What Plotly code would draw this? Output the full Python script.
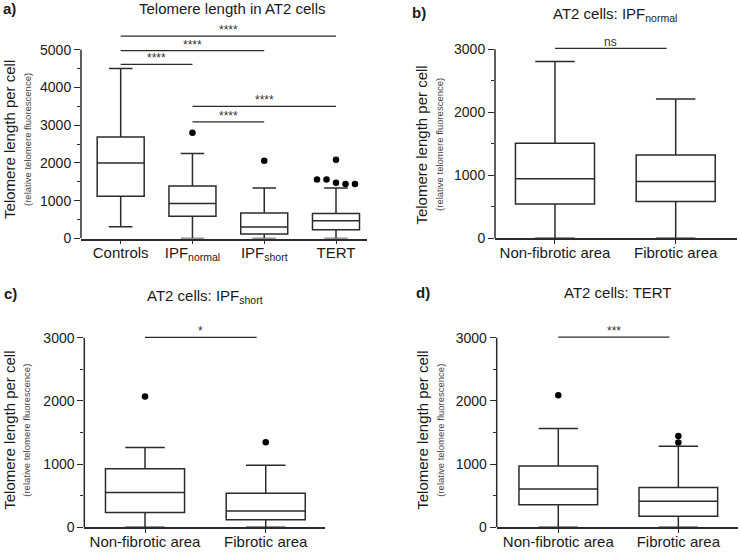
import plotly.graph_objects as go

# ---------------- data ----------------
a_categories = ["Controls", "IPF<sub>normal</sub>", "IPF<sub>short</sub>", "TERT"]
a_q1 = [1122, 591, 122, 235]
a_median = [2000, 930, 304, 470]
a_q3 = [2687, 1391, 678, 661]
a_lower = [313, 0, 0, 0]
a_upper = [4500, 2252, 1339, 1339]
a_outliers = [[], [2800], [2061], [2087, 1565, 1565, 1478, 1443, 1443]]
a_comparisons = [(0, 1, "****", 4609), (0, 2, "****", 4974), (0, 3, "****", 5357),
                 (1, 3, "****", 3496), (1, 2, "****", 3087)]
a_ticks = [0, 1000, 2000, 3000, 4000, 5000]

area_categories = ["Non-fibrotic area", "Fibrotic area"]
b_q1 = [543, 584]
b_median = [944, 902]
b_q3 = [1508, 1320]
b_lower = [0, 0]
b_upper = [2807, 2212]
b_outliers = [[], []]
b_comparisons = [(0, 1, "ns", 3015)]

c_q1 = [234, 120]
c_median = [551, 260]
c_q3 = [926, 541]
c_lower = [0, 0]
c_upper = [1264, 983]
c_outliers = [[2070], [1347]]
c_comparisons = [(0, 1, "*", 3006)]

d_q1 = [359, 177]
d_median = [608, 411]
d_q3 = [972, 629]
d_lower = [0, 0]
d_upper = [1565, 1284]
d_outliers = [[2090], [1446, 1342]]
d_comparisons = [(0, 1, "***", 3011)]

bcd_ticks = [0, 1000, 2000, 3000]

titles = ["Telomere length in AT2 cells", "AT2 cells: IPF<sub>normal</sub>",
          "AT2 cells: IPF<sub>short</sub>", "AT2 cells: TERT"]
panel_letters = ["a)", "b)", "c)", "d)"]
ylabel_main = "Telomere length per cell"
ylabel_sub = "(relative telomere fluorescence)"

# ---------------- style / layout ----------------
W, H = 740, 558
FONT = "Liberation Sans, Arial, Helvetica, sans-serif"
INK = "#1a1a1a"
LINE = "#2b2b2b"

def px_x(p):
    return p / W

def px_y(p):
    return 1 - p / H

panels = [
    dict(cats=a_categories, q1=a_q1, med=a_median, q3=a_q3, lo=a_lower, hi=a_upper,
         out=a_outliers, comp=a_comparisons, ticks=a_ticks, ymax=5600,
         xpx=(81, 367), y0px=242, per1000=38.33, xr=(-0.553, 3.432), inset=0.0,
         title_xy=(231.7, 8.5), letter_xy=(9, 8.5), ylab_x=(10, 28), ylab_y=142),
    dict(cats=area_categories, q1=b_q1, med=b_median, q3=b_q3, lo=b_lower, hi=b_upper,
         out=b_outliers, comp=b_comparisons, ticks=bcd_ticks, ymax=3300,
         xpx=(495, 737), y0px=241.7, per1000=63.9, xr=(-0.497, 1.508), inset=0.075,
         title_xy=(615, 15), letter_xy=(418.5, 13), ylab_x=(421.7, 440), ylab_y=147),
    dict(cats=area_categories, q1=c_q1, med=c_median, q3=c_q3, lo=c_lower, hi=c_upper,
         out=c_outliers, comp=c_comparisons, ticks=bcd_ticks, ymax=3300,
         xpx=(84.3, 325), y0px=535, per1000=64.1, xr=(-0.503, 1.491), inset=0.075,
         title_xy=(205, 301), letter_xy=(10, 298), ylab_x=(10, 27), ylab_y=437),
    dict(cats=area_categories, q1=d_q1, med=d_median, q3=d_q3, lo=d_lower, hi=d_upper,
         out=d_outliers, comp=d_comparisons, ticks=bcd_ticks, ymax=3300,
         xpx=(496.7, 738), y0px=535, per1000=64.1, xr=(-0.513, 1.497), inset=0.075,
         title_xy=(618, 297), letter_xy=(422.5, 297), ylab_x=(423, 441), ylab_y=437),
]

fig = go.Figure()
shapes = []
annotations = []
MARKER_PX = 6.5

for k, p in enumerate(panels):
    n = "" if k == 0 else str(k + 1)
    xa, ya = "x" + n, "y" + n
    pos = list(range(len(p["cats"])))
    unit_px = (p["xpx"][1] - p["xpx"][0]) / (p["xr"][1] - p["xr"][0])  # px per x unit
    top_px = p["y0px"] - p["ymax"] * p["per1000"] / 1000

    fig.add_trace(go.Box(
        x=pos, q1=p["q1"], median=p["med"], q3=p["q3"],
        lowerfence=p["lo"], upperfence=p["hi"],
        boxpoints=False, width=0.655, whiskerwidth=0.5,
        fillcolor="rgba(0,0,0,0)", line=dict(color=LINE, width=1.5),
        xaxis=xa, yaxis=ya, showlegend=False, hoverinfo="skip"))

    # outliers, spreading overlapping points sideways
    ox, oy = [], []
    thr = MARKER_PX * 1000 / p["per1000"]
    for i, vals in enumerate(p["out"]):
        s = sorted(vals, reverse=True)
        groups, cur = [], []
        for v in s:
            if cur and cur[-1] - v >= thr:
                groups.append(cur)
                cur = []
            cur.append(v)
        if cur:
            groups.append(cur)
        for g in groups:
            m = len(g)
            for j, v in enumerate(g):
                ox.append(i + (j - (m - 1) / 2) * 9.5 / unit_px)
                oy.append(v)
    if ox:
        fig.add_trace(go.Scatter(x=ox, y=oy, mode="markers",
                                 marker=dict(color="black", size=MARKER_PX),
                                 xaxis=xa, yaxis=ya, showlegend=False,
                                 hoverinfo="skip", cliponaxis=False))

    xdom = [px_x(p["xpx"][0]), px_x(p["xpx"][1])]
    ydom = [px_y(p["y0px"]), px_y(top_px)]
    minor_vals = [t + 500 for t in p["ticks"][:-1]]
    fig.update_layout(**{
        ("xaxis" + n): dict(domain=xdom, range=list(p["xr"]), tickmode="array",
                            tickvals=pos, ticktext=p["cats"], showline=True,
                            linecolor=LINE, linewidth=1.5, ticks="outside",
                            ticklen=4, tickwidth=1.3, tickcolor=LINE,
                            ticklabelstandoff=-4,
                            showgrid=False, zeroline=False, anchor=ya,
                            tickfont=dict(family=FONT, size=15, color=INK)),
        ("yaxis" + n): dict(domain=ydom, range=[0, p["ymax"]], tickmode="array",
                            tickvals=p["ticks"], ticktext=[str(t) for t in p["ticks"]],
                            showline=False, ticks="outside", ticklen=6, tickwidth=1.3,
                            tickcolor=LINE, showgrid=False, zeroline=False, anchor=xa,
                            minor=dict(tickvals=minor_vals, ticks="outside", ticklen=3,
                                       tickwidth=1.3, tickcolor=LINE, showgrid=False),
                            tickfont=dict(family=FONT, size=14, color=INK)),
    })

    # y axis line up to the top tick
    shapes.append(dict(type="line", xref="paper", yref=ya, x0=xdom[0], x1=xdom[0],
                       y0=0, y1=p["ticks"][-1], line=dict(color=LINE, width=1.5)))

    # significance brackets
    for (i, j, txt, lvl) in p["comp"]:
        x1 = j - p["inset"]
        shapes.append(dict(type="line", xref=xa, yref=ya, x0=i, x1=x1, y0=lvl, y1=lvl,
                           line=dict(color=LINE, width=1.3)))
        annotations.append(dict(x=(i + x1) / 2, y=lvl, xref=xa, yref=ya, text=txt,
                                showarrow=False, yanchor="bottom", yshift=-3,
                                font=dict(family=FONT, size=12, color="#333")))

    # titles
    annotations.append(dict(x=px_x(p["title_xy"][0]), y=px_y(p["title_xy"][1]),
                            xref="paper", yref="paper", text=titles[k], showarrow=False,
                            xanchor="center", yanchor="middle",
                            font=dict(family=FONT, size=15, color=INK)))
    annotations.append(dict(x=px_x(p["letter_xy"][0]), y=px_y(p["letter_xy"][1]),
                            xref="paper", yref="paper", text="<b>" + panel_letters[k] + "</b>",
                            showarrow=False, xanchor="center", yanchor="middle",
                            font=dict(family=FONT, size=15, color=INK)))
    # y labels
    annotations.append(dict(x=px_x(p["ylab_x"][0]), y=px_y(p["ylab_y"]),
                            xref="paper", yref="paper", text=ylabel_main, textangle=-90,
                            showarrow=False, xanchor="center", yanchor="middle",
                            font=dict(family=FONT, size=15, color=INK)))
    annotations.append(dict(x=px_x(p["ylab_x"][1]), y=px_y(p["ylab_y"]),
                            xref="paper", yref="paper", text=ylabel_sub, textangle=-90,
                            showarrow=False, xanchor="center", yanchor="middle",
                            font=dict(family=FONT, size=9.5, color="#444")))

fig.update_layout(width=W, height=H, margin=dict(l=0, r=0, t=0, b=0),
                  paper_bgcolor="white", plot_bgcolor="white",
                  shapes=shapes, annotations=annotations, showlegend=False)

fig.write_html("out.html", config={"displayModeBar": False},
               post_script="document.body.style.margin='0';document.body.style.padding='0';")
